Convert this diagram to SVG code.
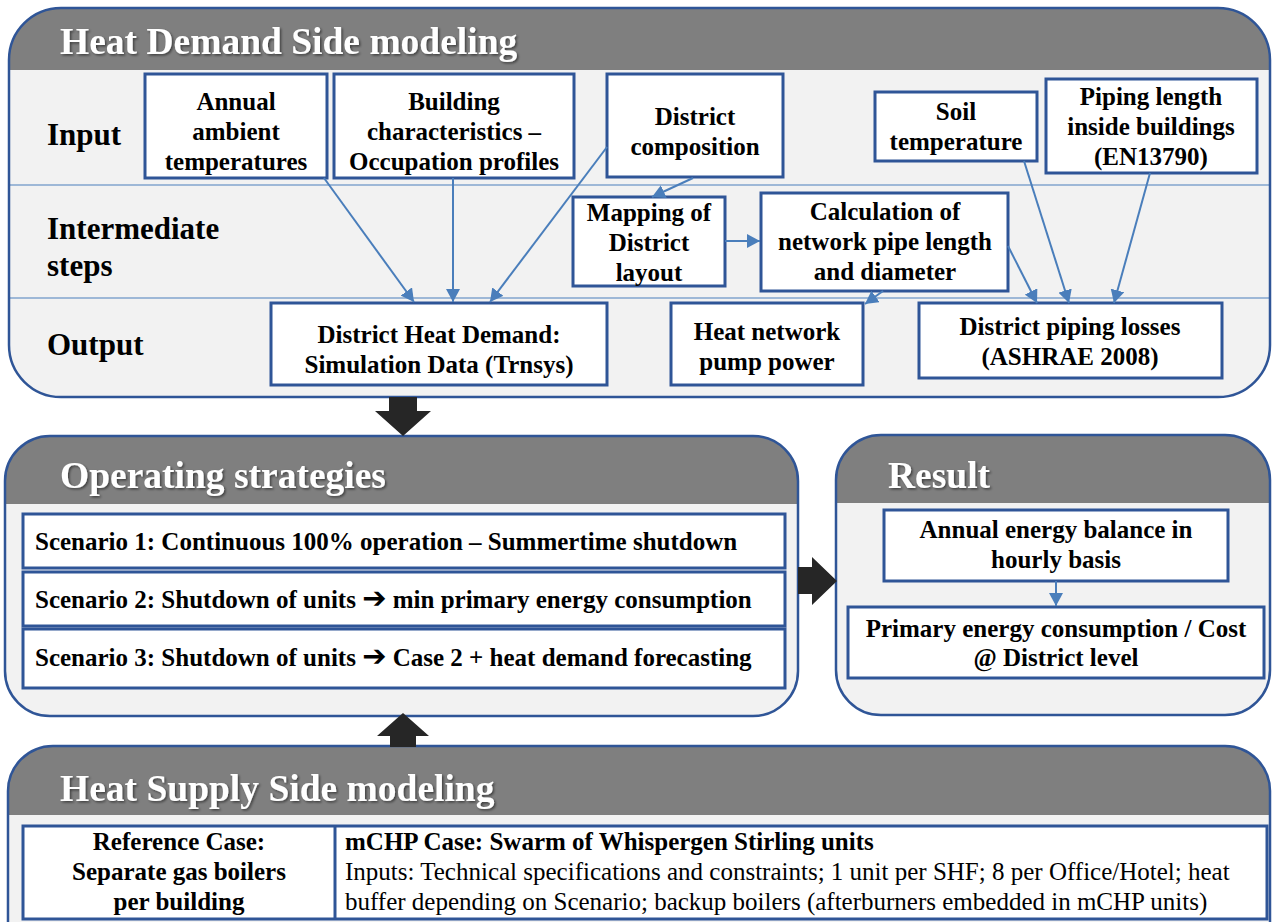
<svg xmlns="http://www.w3.org/2000/svg" width="1272" height="922" viewBox="0 0 1272 922">
<defs>
<style>
.outline{fill:none;stroke:#2F5597;stroke-width:2.5}
.hdr{fill:#7F7F7F}
.body{fill:#F2F2F2}
.box{fill:#fff;stroke:#2F5597;stroke-width:3}
.t{font-family:"Liberation Serif","Times New Roman",serif;font-weight:bold;font-size:25px;fill:#000}
.r{font-weight:normal}
.c{text-anchor:middle}
.title{font-size:37.5px;fill:#fff;filter:url(#sh)}
.row{font-size:31px}
.div{stroke:#4A7EBB;stroke-width:1.2}
.conn{stroke:#4A7EBB;stroke-width:2;fill:none;marker-end:url(#ah)}
.big{fill:#262626}
.sym{font-family:"DejaVu Sans",sans-serif;font-size:29px;font-weight:bold}
</style>
<marker id="ah" markerUnits="userSpaceOnUse" markerWidth="14" markerHeight="14" refX="13" refY="7" orient="auto">
<path d="M0,0 L13,7 L0,14 Z" fill="#4A7EBB"/>
</marker>
<filter id="sh" x="-5%" y="-20%" width="110%" height="150%">
<feDropShadow dx="1.5" dy="1.5" stdDeviation="1" flood-color="#000" flood-opacity="0.5"/>
</filter>
<clipPath id="cp1"><rect x="9" y="8" width="1261" height="389" rx="52"/></clipPath>
<clipPath id="cp2"><rect x="5" y="436" width="793" height="280" rx="45"/></clipPath>
<clipPath id="cp3"><rect x="836" y="435" width="434" height="280" rx="45"/></clipPath>
<clipPath id="cp4"><rect x="8" y="746" width="1262" height="230" rx="45"/></clipPath>
</defs>

<!-- Panels -->
<g id="panel-demand">
<g clip-path="url(#cp1)">
<rect class="body" x="9" y="8" width="1261" height="389"/>
<rect class="hdr" x="9" y="8" width="1261" height="62"/>
</g>
<line class="div" x1="9" y1="185" x2="1270" y2="185"/>
<line class="div" x1="9" y1="298" x2="1270" y2="298"/>
<rect class="outline" x="9" y="8" width="1261" height="389" rx="52"/>
<text class="t title" x="60" y="54">Heat Demand Side modeling</text>
<text class="t row" x="47" y="145">Input</text>
<text class="t row" x="47" y="239">Intermediate</text>
<text class="t row" x="47" y="276">steps</text>
<text class="t row" x="47" y="355">Output</text>
</g>

<g id="panel-operating">
<g clip-path="url(#cp2)">
<rect class="body" x="5" y="436" width="793" height="280"/>
<rect class="hdr" x="5" y="436" width="793" height="68"/>
</g>
<rect class="outline" x="5" y="436" width="793" height="280" rx="45"/>
<text class="t title" x="60" y="488">Operating strategies</text>
</g>

<g id="panel-result">
<g clip-path="url(#cp3)">
<rect class="body" x="836" y="435" width="434" height="280"/>
<rect class="hdr" x="836" y="435" width="434" height="68"/>
</g>
<rect class="outline" x="836" y="435" width="434" height="280" rx="45"/>
<text class="t title" x="888" y="488">Result</text>
</g>

<g id="panel-supply">
<g clip-path="url(#cp4)">
<rect class="body" x="8" y="746" width="1262" height="230"/>
<rect class="hdr" x="8" y="746" width="1262" height="69"/>
</g>
<rect class="outline" x="8" y="746" width="1262" height="230" rx="45"/>
<text class="t title" x="60" y="801">Heat Supply Side modeling</text>
</g>

<!-- Input nodes -->
<g id="n-annual">
<rect class="box" x="145" y="74" width="182" height="104"/>
<text class="t c" x="236" y="110">Annual</text>
<text class="t c" x="236" y="140">ambient</text>
<text class="t c" x="236" y="170">temperatures</text>
</g>
<g id="n-building">
<rect class="box" x="334" y="74" width="240" height="104"/>
<text class="t c" x="454" y="110">Building</text>
<text class="t c" x="454" y="140">characteristics –</text>
<text class="t c" x="454" y="170">Occupation profiles</text>
</g>
<g id="n-district-comp">
<rect class="box" x="607" y="74" width="176" height="103"/>
<text class="t c" x="695" y="125">District</text>
<text class="t c" x="695" y="155">composition</text>
</g>
<g id="n-soil">
<rect class="box" x="875" y="92" width="162" height="69"/>
<text class="t c" x="956" y="120">Soil</text>
<text class="t c" x="956" y="150">temperature</text>
</g>
<g id="n-piping">
<rect class="box" x="1046" y="79" width="211" height="94"/>
<text class="t c" x="1151" y="105">Piping length</text>
<text class="t c" x="1151" y="135">inside buildings</text>
<text class="t c" x="1151" y="165">(EN13790)</text>
</g>

<!-- Intermediate nodes -->
<g id="n-mapping">
<rect class="box" x="573" y="197" width="152" height="89"/>
<text class="t c" x="649" y="221">Mapping of</text>
<text class="t c" x="649" y="251">District</text>
<text class="t c" x="649" y="281">layout</text>
</g>
<g id="n-calc">
<rect class="box" x="761" y="193" width="247" height="98"/>
<text class="t c" x="885" y="220">Calculation of</text>
<text class="t c" x="885" y="250">network pipe length</text>
<text class="t c" x="885" y="280">and diameter</text>
</g>

<!-- Output nodes -->
<g id="n-heat-demand">
<rect class="box" x="271" y="303" width="336" height="82"/>
<text class="t c" x="439" y="343">District Heat Demand:</text>
<text class="t c" x="439" y="373">Simulation Data (Trnsys)</text>
</g>
<g id="n-pump">
<rect class="box" x="671" y="303" width="192" height="82"/>
<text class="t c" x="767" y="340">Heat network</text>
<text class="t c" x="767" y="370">pump power</text>
</g>
<g id="n-losses">
<rect class="box" x="919" y="303" width="303" height="75"/>
<text class="t c" x="1070" y="335">District piping losses</text>
<text class="t c" x="1070" y="365">(ASHRAE 2008)</text>
</g>

<!-- Scenarios -->
<g id="n-s1">
<rect class="box" x="23" y="514" width="762" height="54"/>
<text class="t" x="35" y="550">Scenario 1: Continuous 100% operation – Summertime shutdown</text>
</g>
<g id="n-s2">
<rect class="box" x="23" y="572" width="762" height="54"/>
<text class="t" x="35" y="608">Scenario 2: Shutdown of units <tspan class="sym">➔</tspan> min primary energy consumption</text>
</g>
<g id="n-s3">
<rect class="box" x="23" y="629" width="762" height="59"/>
<text class="t" x="35" y="666">Scenario 3: Shutdown of units <tspan class="sym">➔</tspan> Case 2 + heat demand forecasting</text>
</g>

<!-- Result nodes -->
<g id="n-annual-balance">
<rect class="box" x="884" y="510" width="344" height="71"/>
<text class="t c" x="1056" y="538">Annual energy balance in</text>
<text class="t c" x="1056" y="568">hourly basis</text>
</g>
<g id="n-primary">
<rect class="box" x="848" y="607" width="416" height="71"/>
<text class="t c" x="1056" y="637">Primary energy consumption / Cost</text>
<text class="t c" x="1056" y="666">@ District level</text>
</g>

<!-- Supply table -->
<g id="n-supply-table">
<rect class="box" x="23" y="826" width="1244" height="93"/>
<line x1="335" y1="826" x2="335" y2="919" stroke="#2F5597" stroke-width="3"/>
<text class="t c" x="179" y="850">Reference Case:</text>
<text class="t c" x="179" y="880">Separate gas boilers</text>
<text class="t c" x="179" y="910">per building</text>
<text class="t" x="345" y="850">mCHP Case: Swarm of Whispergen Stirling units</text>
<text class="t r" x="345" y="880">Inputs: Technical specifications and constraints; 1 unit per SHF; 8 per Office/Hotel; heat</text>
<text class="t r" x="345" y="910">buffer depending on Scenario; backup boilers (afterburners embedded in mCHP units)</text>
</g>

<!-- Connectors -->
<g id="connectors">
<line class="conn" x1="324" y1="178" x2="414" y2="302"/>
<line class="conn" x1="453" y1="178" x2="453" y2="302"/>
<line class="conn" x1="607" y1="147" x2="490" y2="302"/>
<line class="conn" x1="693" y1="178" x2="652" y2="197"/>
<line class="conn" x1="725" y1="241" x2="760" y2="241"/>
<line class="conn" x1="883" y1="291" x2="865" y2="304"/>
<line class="conn" x1="1008" y1="246" x2="1037" y2="303"/>
<line class="conn" x1="1024" y1="161" x2="1069" y2="303"/>
<line class="conn" x1="1150" y1="173" x2="1114" y2="303"/>
<line class="conn" x1="1056" y1="581" x2="1056" y2="606"/>
<polygon class="big" points="389,397 417,397 417,411 431,411 403,436 375,411 389,411"/>
<polygon class="big" points="798,567 812,567 812,557 837,581 812,605 812,594 798,594"/>
<polygon class="big" points="390,747 416,747 416,736 429,736 403,713 377,736 390,736"/>
</g>
</svg>
